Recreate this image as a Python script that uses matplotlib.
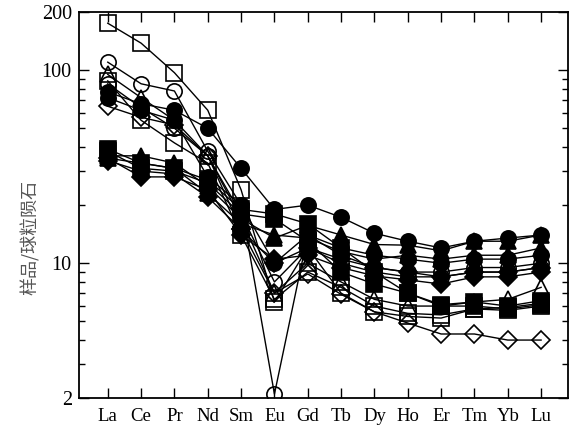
import numpy as np
import matplotlib
matplotlib.use('Agg')
import matplotlib.pyplot as plt
from matplotlib.ticker import FixedLocator, FixedFormatter, NullFormatter

elements = ['La', 'Ce', 'Pr', 'Nd', 'Sm', 'Eu', 'Gd', 'Tb', 'Dy', 'Ho', 'Er', 'Tm', 'Yb', 'Lu']

# chondrite-normalised REE, one list per sample
s1 = [175, 138, 97, 62, 24, 6.3, 12, 7.0, 5.6, 5.3, 5.2, 5.8, 5.7, 6.0]
s2 = [110, 85, 78, 38, 20, 2.1, 14, 11, 9.5, 9.0, 9.0, 9.5, 9.5, 10]
s3 = [95, 72, 55, 36, 17, 7.0, 10, 8.0, 6.5, 6.0, 6.0, 6.3, 6.5, 7.5]
s4 = [77, 67, 62, 50, 31, 19, 20, 17.3, 14.3, 13, 12, 13, 13.5, 14]
s5 = [88, 55, 42, 33, 14, 6.5, 9.0, 7.5, 6.0, 5.5, 5.4, 5.8, 5.9, 6.2]
s6 = [65, 57, 52, 36, 15, 7.0, 8.8, 6.9, 5.6, 4.9, 4.3, 4.3, 4.0, 4.0]
s7 = [85, 64, 50, 36, 18, 8.0, 12, 10, 9.0, 8.5, 8.5, 9.0, 9.0, 9.5]
s8 = [72, 62, 55, 28, 20, 10, 14, 12, 11, 10.5, 10, 10.5, 10.5, 11]
s9 = [39, 33, 31, 27, 19, 18, 16, 12, 9.0, 7.0, 6.0, 6.0, 5.8, 6.1]
s10 = [36, 36, 33, 25, 17, 13.5, 15.7, 14, 12.5, 12.4, 11.6, 13, 13, 14]
s11 = [34, 30, 29, 22, 15, 10, 12, 10.5, 9.5, 9.0, 8.5, 9.0, 9.0, 9.5]
s12 = [35, 28, 28, 24, 14, 10.5, 11, 9.5, 8.6, 8.2, 7.8, 8.5, 8.5, 9.0]
s13 = [38, 31, 30, 26, 18, 17, 13, 9.0, 7.8, 7.0, 6.1, 6.3, 6.0, 6.4]
s14 = [35, 33, 31, 23, 16, 14, 13.5, 11.5, 10.5, 11, 10.5, 11, 11, 12]

samples = [s1, s2, s3, s4, s5, s6, s7, s8, s9, s10, s11, s12, s13, s14]
markers = ['s', 'o', '^', 'o', 's', 'D', 'o', 'o', 's', '^', 'D', 'D', 's', '^']
filled = [False, False, False, True, False, False, False, True, True, True, True, True, True, True]
sizes = [12, 11, 11, 11, 12, 9, 11, 11, 11, 11, 9, 9, 11, 11]

plt.rcParams['font.family'] = ['Liberation Serif', 'DejaVu Serif']

fig = plt.figure(figsize=(5.75, 4.3), dpi=100)
ax = fig.add_axes([0.137, 0.074, 0.851, 0.898])

x = np.arange(len(elements))
for i in range(len(samples)):
    fc = 'black' if filled[i] else 'none'
    ax.plot(x, samples[i], color='black', lw=1.0, marker=markers[i], ms=sizes[i],
            mfc=fc, mec='black', mew=1.2)

ax.set_yscale('log')
ax.set_ylim(2, 200)
ax.set_xlim(-0.87, 13.81)
ax.yaxis.set_major_locator(FixedLocator([2, 10, 100, 200]))
ax.yaxis.set_minor_locator(FixedLocator([3, 4, 5, 6, 7, 8, 9, 20, 30, 40, 50, 60, 70, 80, 90]))
ax.yaxis.set_major_formatter(FixedFormatter(['2', '10', '100', '200']))
ax.yaxis.set_minor_formatter(NullFormatter())
ax.set_xticks(x)
ax.set_xticklabels(elements)
ax.tick_params(which='both', direction='in', top=True, right=True)
ax.tick_params(axis='x', labelsize=13.5, pad=7)
ax.tick_params(axis='y', labelsize=14.5, pad=5)
ax.tick_params(which='major', length=7, width=1)
ax.tick_params(which='minor', length=4, width=1)
for sp in ax.spines.values():
    sp.set_linewidth(1.3)

fig.text(0.052, 0.447, '样品/球粒陨石', family=['Noto Sans CJK SC', 'DejaVu Sans'],
         fontsize=13, color='#555555', rotation=90, ha='center', va='center')

fig.savefig('out.png', dpi=100)
